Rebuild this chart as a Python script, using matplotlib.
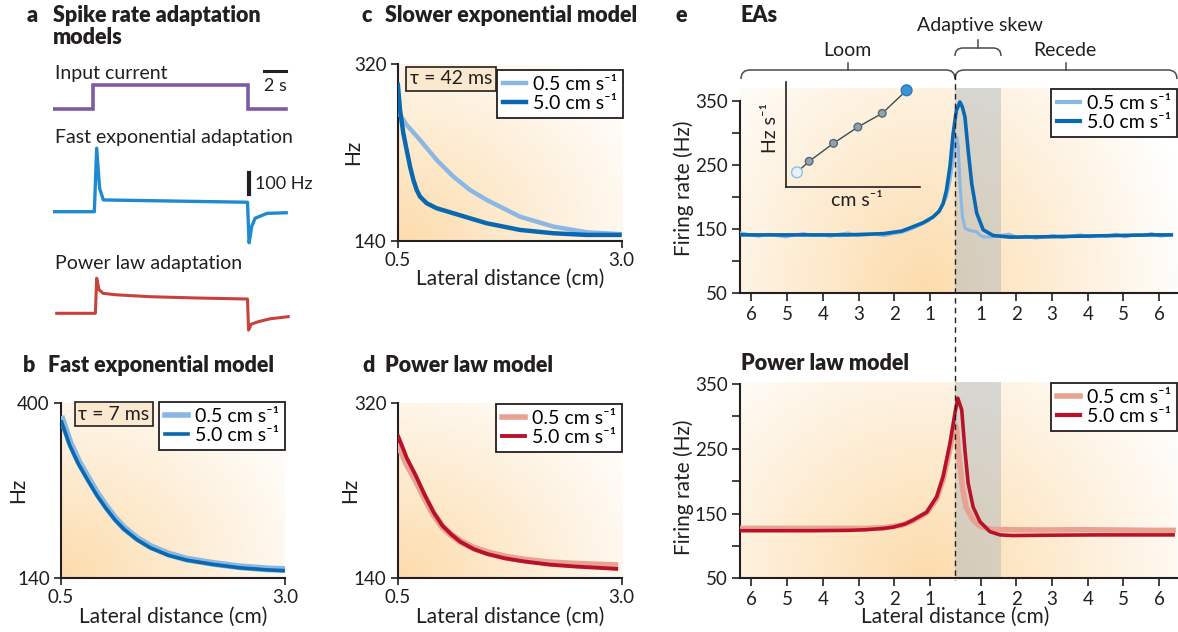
"""Spike rate adaptation figure: model traces, lateral-distance tuning and EA recordings."""
import matplotlib
matplotlib.use("Agg")
import matplotlib.pyplot as plt
import numpy as np
from matplotlib.colors import LinearSegmentedColormap
from matplotlib.lines import Line2D
from matplotlib.path import Path
from matplotlib.patches import PathPatch

plt.rcParams['font.family'] = ['Lato', 'DejaVu Sans']

W, H = 1178, 632
INK = "#231f20"
LIGHT_BLUE, DARK_BLUE = "#8ab8e2", "#0a68b0"
LIGHT_RED, DARK_RED = "#e8a292", "#b8122b"
SPEED_LABELS = ["0.5 cm s\u207b\u00b9", "5.0 cm s\u207b\u00b9"]

# ---- panel a: model traces (time in s, rate in Hz) ----
a_input_t = [0, 3.8, 3.8, 18.38, 18.38, 22.0]
a_input_v = [0, 0, 1, 1, 0, 0]
a_fast_t = [0, 3.9, 4.12, 4.4, 4.75, 18.35, 18.5, 18.75, 19.07, 20.2, 22.0]
a_fast_v = [150, 150, 452, 260, 206, 195, 2, 80, 119, 142, 145]
a_power_t = [0.35, 4.0, 4.12, 4.35, 4.72, 6.0, 9.16, 13.5, 18.35, 18.45, 18.7, 19.36, 20.5, 22.19]
a_power_v = [150, 150, 317, 262, 245, 238, 229, 223, 218, 70, 98, 110, 124, 134]

# ---- panel b: fast exponential model ----
b_x = [0.5, 0.6, 0.7, 0.8, 0.9, 1.0, 1.1, 1.2, 1.35, 1.5, 1.7, 1.9, 2.2, 2.5, 2.8, 3.0]
b_slow = [380, 341, 312, 289, 266.5, 247, 229.5, 215, 199, 187, 176, 168.5, 162, 157, 154, 153]
b_fast = [374, 336, 308, 285, 263, 244, 227, 213, 197, 185, 174, 167, 160.5, 155.5, 152.5, 151.3]

# ---- panel c: slower exponential model ----
c_slow_x = [0.5, 0.6, 0.749, 0.935, 1.121, 1.307, 1.493, 1.865, 2.237, 2.61, 3.0]
c_slow = [271.7, 258.1, 242.8, 222.4, 205.4, 191.8, 181.6, 164.5, 154.4, 148.6, 146.6]
c_fast_x = [0.5, 0.526, 0.563, 0.6, 0.638, 0.675, 0.712, 0.749, 0.824, 0.935, 1.121,
            1.493, 1.865, 2.237, 2.61, 3.0]
c_fast = [301.3, 273.4, 249.6, 232.6, 215.6, 202, 191.8, 185, 178.2, 173.1, 168,
          157.8, 151, 147.6, 145.9, 145.9]

# ---- panel d: power law model ----
d_x = [0.5, 0.6, 0.7, 0.8, 0.9, 1.0, 1.1, 1.2, 1.35, 1.5, 1.7, 1.9, 2.2, 2.5, 2.8, 2.96]
d_slow = [279, 258, 241.5, 223, 206, 193, 184.5, 178, 171, 166.5, 162, 159, 156, 154.5, 153.5, 153]
d_fast = [287.4, 264, 246, 226, 208, 194, 185, 177.5, 170, 165, 160.5, 157.5, 154, 152, 150.5, 149.6]

# ---- panel e: position axis (0 = dashed midline), loom < 0 < recede ----
e_tick_labels = [6, 5, 4, 3, 2, 1, 1, 2, 3, 4, 5, 6]
e_tick_side = [-1] * 6 + [1] * 6
e_gap = 0.29
skew_zone = (0.0, 1.27)

ea_slow_x = [-6.0, -5.75, -5.5, -5.25, -5.0, -4.75, -4.5, -4.25, -4.0, -3.75, -3.5, -3.25,
             -3.0, -2.75, -2.5, -2.25, -2.0, -1.75, -1.5, -1.25, -1.0, -0.75, -0.5, -0.35,
             -0.25, -0.15, -0.07, 0.0, 0.04, 0.08, 0.13, 0.2, 0.28, 0.4, 0.6, 0.7, 0.8,
             1.0, 1.25, 1.5, 1.75, 2.0, 2.25, 2.5, 2.75, 3.0, 3.25, 3.5, 3.75, 4.0, 4.25,
             4.5, 4.75, 5.0, 5.25, 5.5, 5.75, 6.0]
ea_slow = [144, 141, 139, 142, 140, 138, 141, 143, 140, 141, 139, 142,
           144, 140, 141, 142, 140, 143, 145, 150, 156, 163, 175, 188,
           200, 225, 255, 285, 294, 280, 222, 169, 151, 148, 146, 140, 137.6,
           138, 140, 142, 137, 139, 136, 138, 140, 137, 139, 141, 138, 140,
           139, 142, 138, 141, 140, 143, 139, 141]
ea_fast_x = [-6.0, -5.0, -4.0, -3.0, -2.5, -2.0, -1.5, -1.17, -0.9, -0.62, -0.45, -0.34,
             -0.25, -0.15, -0.06, 0.03, 0.13, 0.2, 0.27, 0.36, 0.46, 0.6, 0.78, 1.06,
             1.53, 2.5, 3.5, 4.5, 5.5, 6.05]
ea_fast = [141, 141, 141, 141, 142, 143, 147, 154, 160, 169, 178, 190,
           210, 247, 299, 335, 348, 340, 325, 273, 221, 175, 149, 140,
           137.5, 138, 139, 140, 141, 141]

# inset: skew vs stimulus speed
inset_speed = [0.5, 1, 2, 3, 4, 5]
inset_skew = [14.4, 25.4, 43.4, 59.7, 73.4, 96.4]

pl_slow_x = [-6.05, -4, -3, -2.5, -2.0, -1.5, -1.18, -0.8, -0.52, -0.34, -0.15, -0.05,
             0.0, 0.03, 0.1, 0.2, 0.3, 0.5, 0.7, 1.0, 1.5, 2.5, 3.5, 4.5, 5.5, 6.1]
pl_slow = [127, 127, 127, 127, 128, 132, 139, 151, 173, 203, 250, 278,
           287, 283, 240, 190, 160, 140, 130, 125.5, 125, 124.5, 125, 124.5, 124, 124]
pl_fast_x = [-6.05, -5, -4, -3, -2.5, -2.0, -1.74, -1.4, -1.18, -0.8, -0.52, -0.34,
             -0.15, -0.01, 0.07, 0.18, 0.27, 0.36, 0.5, 0.69, 0.97, 1.25, 1.6, 2.5,
             4, 5, 6.1]
pl_fast = [123.5, 123.5, 123.5, 124, 125, 127, 129, 134, 140, 152, 176, 207,
           258, 305, 328, 310, 248, 197, 160, 137.5, 122, 117, 116, 116.5,
           117, 117, 117]

fig = plt.figure(figsize=(W / 100, H / 100), dpi=100)
warm = LinearSegmentedColormap.from_list("warm", ["#ffffff", "#fcdcac"])

FS_TEXT = 14
FS_TICK = 13.5
FS_TITLE = 15.5


def px_axes(l, t, r, b, **kw):
    return fig.add_axes([l / W, 1 - b / H, (r - l) / W, (b - t) / H], **kw)


def warm_bg(ax, cx, cy, rx, ry, power=1.0):
    gx, gy = np.meshgrid(np.linspace(0, 1, 240), np.linspace(0, 1, 240))
    z = np.clip(1 - np.hypot((gx - cx) / rx, (gy - cy) / ry), 0, 1) ** power
    ax.imshow(z, extent=[0, 1, 0, 1], transform=ax.transAxes, origin="lower",
              cmap=warm, vmin=0, vmax=1, aspect="auto", zorder=0,
              interpolation="bilinear")


def style(ax):
    for side in ("top", "right"):
        ax.spines[side].set_visible(False)
    for side in ("left", "bottom"):
        ax.spines[side].set_linewidth(1.5)
        ax.spines[side].set_color(INK)
    ax.tick_params(direction="out", length=5, width=1.2, color=INK,
                   labelsize=FS_TICK, labelcolor=INK, pad=3)


def speed_legend(ax, colors, widths, anchor):
    handles = [Line2D([], [], color=c, lw=w) for c, w in zip(colors, widths)]
    leg = ax.legend(handles, SPEED_LABELS, loc="upper right",
                    bbox_to_anchor=(anchor[0] / W, 1 - anchor[1] / H),
                    bbox_transform=fig.transFigure, fontsize=FS_TEXT,
                    handlelength=1.2, handletextpad=0.35, borderpad=0.3,
                    labelspacing=0.12, fancybox=False, framealpha=1,
                    edgecolor=INK, borderaxespad=0)
    leg.get_frame().set_linewidth(1.3)
    leg.set_zorder(5)
    return leg


def tau_box(ax, x, y, text):
    ax.text(x, y, text, transform=ax.transAxes, ha="center", va="center",
            fontsize=FS_TEXT, color=INK, zorder=6,
            bbox=dict(boxstyle="square,pad=0.2", fc="#fbe9cf", ec=INK, lw=1.2))


# ---- a: traces ----
a_xlim = (0, 22.36)
ax_in = px_axes(53, 62, 290, 112)
ax_in.plot(a_input_t, a_input_v, color="#7d5aa6", lw=2.6, solid_joinstyle="miter")
ax_in.plot([19.95, 22.0], [1.6, 1.6], color=INK, lw=2.2)
ax_in.text(20.95, 0.95, "2 s", ha="center", va="center", fontsize=FS_TEXT - 1, color=INK)
ax_in.set_xlim(*a_xlim)
ax_in.set_ylim(-0.125, 1.96)
ax_in.axis("off")

ax_fast = px_axes(53, 140, 290, 250)
ax_fast.plot(a_fast_t, a_fast_v, color="#1f8ad0", lw=2.4)
ax_fast.plot([18.5, 18.5], [233, 333], color=INK, lw=3)
ax_fast.text(19.07, 282, "100 Hz", va="center", fontsize=FS_TEXT - 1, color=INK)
ax_fast.set_xlim(*a_xlim)
ax_fast.set_ylim(-32.4, 491.4)
ax_fast.axis("off")

ax_pow = px_axes(53, 270, 290, 340)
ax_pow.plot(a_power_t, a_power_v, color="#c8413a", lw=2.2)
ax_pow.set_xlim(*a_xlim)
ax_pow.set_ylim(22.9, 356.2)
ax_pow.axis("off")

# ---- b, c, d: lateral distance tuning ----
# box (px), ylim, series, colours, widths, legend corner, tau text, tau centre, xlabel y, ylabel x
panels = [
    ((61, 402.7, 285, 578.3), (140, 400), [(b_x, b_slow), (b_x, b_fast)],
     [LIGHT_BLUE, DARK_BLUE], [5, 2.6], (285, 402), "\u03c4 = 7 ms", (114, 414), 617, 18),
    ((397.7, 64.3, 621.7, 240.7), (140, 320), [(c_slow_x, c_slow), (c_fast_x, c_fast)],
     [LIGHT_BLUE, DARK_BLUE], [3.2, 3.2], (623, 70), "\u03c4 = 42 ms", (451, 79), 279, 353),
    ((397.7, 403.3, 621.7, 578.3), (140, 320), [(d_x, d_slow), (d_x, d_fast)],
     [LIGHT_RED, DARK_RED], [5, 2.8], (622, 404), None, None, 617, 350),
]
for box, ylim, series, colors, widths, leg_anchor, tau, tau_xy, xl_y, yl_x in panels:
    l, t, r, b = box
    ax = px_axes(l, t, r, b)
    warm_bg(ax, 0.0, 0.0, 1.25, 1.35)
    for (x, y), c, w in zip(series, colors, widths):
        ax.plot(x, y, color=c, lw=w, solid_capstyle="butt", zorder=3)
    ax.set_xlim(0.5, 3.0)
    ax.set_ylim(*ylim)
    ax.set_xticks([0.5, 3.0], ["0.5", "3.0"])
    ax.set_yticks(list(ylim), [str(v) for v in ylim])
    style(ax)
    ax.set_xlabel("Lateral distance (cm)", fontsize=FS_TEXT + 1, color=INK, va="center")
    ax.xaxis.set_label_coords(0.5, -(xl_y - b) / (b - t))
    ax.set_ylabel("Hz", fontsize=FS_TEXT + 1, color=INK, va="center")
    ax.yaxis.set_label_coords(-(l - yl_x) / (r - l), 0.5)
    speed_legend(ax, colors, [min(w, 4) for w in widths], leg_anchor)
    if tau:
        tau_box(ax, (tau_xy[0] - l) / (r - l), (b - tau_xy[1]) / (b - t), tau)

# ---- e: EA recordings and power law model ----
e_ticks = [s * (k - e_gap) for s, k in zip(e_tick_side, e_tick_labels)]


def e_axes(t, b, ylim, ylabel_y):
    ax = px_axes(740, t, 1177, b)
    ax.axvspan(*skew_zone, color="#a9b4bd", alpha=0.45, lw=0, zorder=1)
    ax.set_xticks(e_ticks, [str(k) for k in e_tick_labels])
    ax.set_yticks([50, 150, 250, 350], ["50", "150", "250", "350"])
    ax.set_yticks([100, 200, 300], minor=True)
    style(ax)
    ax.tick_params(which="both", length=6, width=1.2, color=INK)
    ax.spines["left"].set_bounds(50, 350)
    ax.set_ylabel("Firing rate (Hz)", fontsize=FS_TEXT + 1, color=INK, va="center")
    ax.yaxis.set_label_coords(-(740 - 684) / 437, (b - ylabel_y) / (b - t))
    return ax


ax_e1 = e_axes(87.9, 293.3, (50, 370), 188)
warm_bg(ax_e1, 0.42, 0.0, 0.62, 1.6)
ax_e1.set_ylim(50, 370)
ax_e1.set_xlim(-6.03, 6.21)
ax_e1.plot(ea_slow_x, ea_slow, color=LIGHT_BLUE, lw=2.2, zorder=3)
ax_e1.plot(ea_fast_x, ea_fast, color=DARK_BLUE, lw=2.6, zorder=4)
speed_legend(ax_e1, [LIGHT_BLUE, DARK_BLUE], [3, 3], (1177, 89))

ax_e2 = e_axes(382, 578.3, (50, 353), 487)
warm_bg(ax_e2, 0.42, 0.0, 0.7, 1.5)
ax_e2.set_ylim(50, 353)
ax_e2.set_xlim(-6.03, 6.21)
ax_e2.plot(pl_slow_x, pl_slow, color=LIGHT_RED, lw=4, zorder=3)
ax_e2.plot(pl_fast_x, pl_fast, color=DARK_RED, lw=2.6, zorder=4)
ax_e2.set_xlabel("Lateral distance (cm)", fontsize=FS_TEXT + 1, color=INK, va="center")
ax_e2.xaxis.set_label_coords((955 - 740) / 437, -(617 - 578.3) / (578.3 - 382))
speed_legend(ax_e2, [LIGHT_RED, DARK_RED], [4, 3], (1177, 383))

ax_in2 = px_axes(786, 81.7, 920, 186.7)
ax_in2.patch.set_alpha(0)
ax_in2.plot(inset_speed, inset_skew, color="#3d4b55", lw=1, zorder=2)
pt_face = ["#e6f1fb"] + ["#8fa3ad"] * 4 + ["#3d92d4"]
pt_edge = ["#8cbfe6"] + ["#56687a"] * 4 + ["#2a78bf"]
pt_size = [60] + [30] * 4 + [60]
ax_in2.scatter(inset_speed, inset_skew, s=pt_size, c=pt_face, edgecolors=pt_edge,
               linewidths=1, zorder=3)
ax_in2.set_xlim(0.05, 5.55)
ax_in2.set_ylim(0, 105)
ax_in2.set_xticks([])
ax_in2.set_yticks([])
for side in ("top", "right"):
    ax_in2.spines[side].set_visible(False)
for side in ("left", "bottom"):
    ax_in2.spines[side].set_linewidth(1.2)
    ax_in2.spines[side].set_color(INK)

# ---- overlay in pixel coordinates: titles, braces, midline ----
ov = fig.add_axes([0, 0, 1, 1], zorder=10)
ov.set_xlim(0, W)
ov.set_ylim(H, 0)
ov.axis("off")
ov.patch.set_alpha(0)

bold = dict(fontsize=FS_TITLE, fontweight="heavy", color=INK, va="center")
ov.text(27, 15, "a", **bold)
ov.text(53, 15, "Spike rate adaptation", **bold)
ov.text(53, 38, "models", **bold)
ov.text(23, 366, "b", **bold)
ov.text(48, 366, "Fast exponential model", **bold)
ov.text(362, 15, "c", **bold)
ov.text(385, 15, "Slower exponential model", **bold)
ov.text(362, 366, "d", **bold)
ov.text(385, 366, "Power law model", **bold)
ov.text(675, 15, "e", **bold)
ov.text(741, 15, "EAs", **bold)
ov.text(741, 363, "Power law model", **bold)

plain = dict(fontsize=FS_TEXT, color=INK, va="center")
ov.text(55, 73, "Input current", **plain)
ov.text(55, 137, "Fast exponential adaptation", **plain)
ov.text(55, 264, "Power law adaptation", **plain)
ov.text(847, 50, "Loom", ha="center", **plain)
ov.text(1065, 50, "Recede", ha="center", **plain)
ov.text(980, 25, "Adaptive skew", ha="center", **plain)
ov.text(770, 128, "Hz s\u207b\u00b9", ha="center", rotation=90, **plain)
ov.text(857, 200, "cm s\u207b\u00b9", ha="center", **plain)


def brace(x0, x1, y, drop, tip):
    verts = [(x0, y + drop), (x0, y), (x0 + drop, y), (x1 - drop, y),
             (x1, y), (x1, y + drop)]
    codes = [Path.MOVETO, Path.CURVE3, Path.CURVE3, Path.LINETO,
             Path.CURVE3, Path.CURVE3]
    ov.add_patch(PathPatch(Path(verts, codes), fill=False, lw=1.1, ec="#4a4a4a"))
    xm = (x0 + x1) / 2
    ov.plot([xm, xm], [y, y - tip], color="#4a4a4a", lw=1.1)


brace(741, 955, 70, 9, 7)
brace(955, 1177, 70, 9, 7)
brace(955, 1001, 48, 8, 8)
ov.plot([955.3, 955.3], [74, 580], color=INK, lw=1, dashes=(4, 3))

fig.savefig("out.png", dpi=100)
